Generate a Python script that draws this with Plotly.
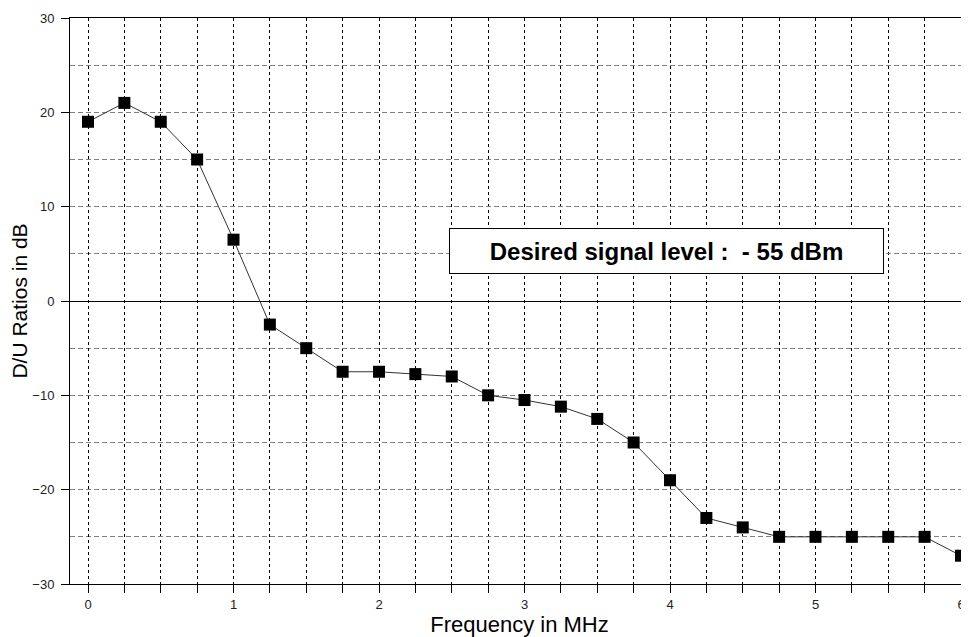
import plotly.graph_objects as go

freq_mhz = [0, 0.25, 0.5, 0.75, 1.0, 1.25, 1.5, 1.75, 2.0, 2.25, 2.5, 2.75, 3.0,
            3.25, 3.5, 3.75, 4.0, 4.25, 4.5, 4.75, 5.0, 5.25, 5.5, 5.75, 6.0]
du_db = [19, 21, 19, 15, 6.5, -2.5, -5, -7.5, -7.5, -7.75, -8, -10, -10.5,
         -11.2, -12.5, -15, -19, -23, -24, -25, -25, -25, -25, -25, -27]
x_tick_vals = [0, 1, 2, 3, 4, 5, 6]
y_tick_vals = [-30, -20, -10, 0, 10, 20, 30]
box_text = "Desired signal level :&nbsp; - 55 dBm"

fig = go.Figure()
fig.add_trace(go.Scatter(
    x=freq_mhz, y=du_db, mode="lines+markers",
    line=dict(color="#333333", width=1),
    marker=dict(symbol="square", size=12, color="black"),
    showlegend=False,
))

fig.add_annotation(
    x=3.976, y=5.3, xref="x", yref="y",
    text=box_text, showarrow=False,
    font=dict(family="Liberation Sans, Arial", size=24, color="black", weight="bold"),
    bgcolor="white", bordercolor="black", borderwidth=1, borderpad=1,
    width=431, height=42, xanchor="center", yanchor="middle",
)

# page body has an 8px margin: figure is offset by 8px in the window
fig.update_layout(
    width=961, height=629,
    margin=dict(l=62, r=0, t=10, b=53),
    plot_bgcolor="white", paper_bgcolor="white",
    font=dict(family="Liberation Sans, Arial", color="black"),
    xaxis=dict(
        range=[-0.1237, 6.055], tickvals=x_tick_vals, automargin=False,
        showgrid=True, gridcolor="black", gridwidth=1, griddash="3px,3px",
        ticks="outside", ticklen=8, tickcolor="black",
        minor=dict(dtick=0.25, tick0=0, showgrid=True, gridcolor="black",
                   griddash="3px,3px", gridwidth=1, ticks="outside", ticklen=8,
                   tickcolor="black"),
        showline=True, linecolor="black", linewidth=1, mirror=True,
        zeroline=False,
        tickfont=dict(size=13, color="#222222"),
        title=dict(text="Frequency in MHz", font=dict(size=22), standoff=0),
    ),
    yaxis=dict(
        range=[-30, 30], tickvals=y_tick_vals, automargin=False,
        showgrid=True, gridcolor="#808080", gridwidth=1, griddash="5px,3px",
        ticks="outside", ticklen=8, tickcolor="black",
        minor=dict(dtick=5, tick0=0, showgrid=True, gridcolor="#808080",
                   griddash="5px,3px", gridwidth=1, ticks=""),
        showline=True, linecolor="black", linewidth=1,
        zeroline=True, zerolinecolor="black", zerolinewidth=1,
        tickfont=dict(size=13, color="#222222"),
        ticklabelstandoff=4,
        title=dict(text="D/U Ratios in dB", font=dict(size=21), standoff=0),
    ),
)

fig.write_html("out.html")
